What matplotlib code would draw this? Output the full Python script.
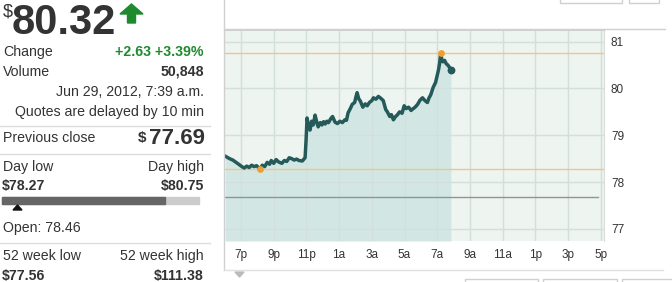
"""
Intraday quote card: price summary panel plus a one-day price chart.
"""

import matplotlib.pyplot as plt
from matplotlib.patches import Polygon, Rectangle
from matplotlib.lines import Line2D

plt.rcParams.update({
    "font.family": ["Liberation Sans", "DejaVu Sans"],
    "font.size": 10.2,
})

W, H = 672, 282

# Intraday trade, hours counted from 6 p.m. of the previous day
hours = [
    0.05, 0.3, 0.5, 0.7, 0.9, 1.05, 1.2, 1.35, 1.5, 1.65,
    1.8, 1.95, 2.1, 2.18, 2.3, 2.45, 2.6, 2.75, 2.85, 3.0,
    3.15, 3.3, 3.5, 3.65, 3.8, 3.95, 4.1, 4.25, 4.4, 4.55,
    4.75, 4.92, 4.98, 5.04, 5.12, 5.22, 5.32, 5.42, 5.53, 5.62,
    5.72, 5.85, 5.95, 6.05, 6.15, 6.25, 6.35, 6.5, 6.6, 6.75,
    6.9, 7.05, 7.2, 7.35, 7.45, 7.55, 7.7, 7.8, 7.95, 8.03,
    8.1, 8.2, 8.3, 8.45, 8.6, 8.72, 8.85, 9.0, 9.1, 9.25,
    9.4, 9.55, 9.7, 9.85, 9.95, 10.1, 10.2, 10.32, 10.45, 10.55,
    10.7, 10.85, 10.98, 11.1, 11.25, 11.4, 11.5, 11.65, 11.8, 11.95,
    12.1, 12.25, 12.4, 12.5, 12.6, 12.75, 12.9, 13.0, 13.08, 13.15,
    13.21, 13.28, 13.35, 13.45, 13.55, 13.65, 13.75, 13.84,
]
prices = [
    78.55, 78.50, 78.47, 78.42, 78.37, 78.33, 78.30, 78.34, 78.31, 78.36,
    78.33, 78.35, 78.30, 78.27, 78.36, 78.33, 78.42, 78.38, 78.46, 78.40,
    78.48, 78.43, 78.40, 78.46, 78.44, 78.52, 78.50, 78.47, 78.49, 78.46,
    78.45, 78.52, 78.90, 79.37, 79.22, 79.11, 79.30, 79.22, 79.43, 79.30,
    79.18, 79.27, 79.22, 79.29, 79.24, 79.30, 79.27, 79.36, 79.40, 79.28,
    79.25, 79.30, 79.27, 79.33, 79.32, 79.48, 79.58, 79.66, 79.70, 79.82,
    79.91, 79.78, 79.73, 79.60, 79.67, 79.63, 79.70, 79.74, 79.80, 79.77,
    79.83, 79.79, 79.74, 79.55, 79.50, 79.40, 79.44, 79.33, 79.40, 79.43,
    79.50, 79.47, 79.63, 79.57, 79.60, 79.53, 79.56, 79.60, 79.66, 79.75,
    79.80, 79.74, 79.70, 79.80, 79.86, 80.02, 80.13, 80.28, 80.40, 80.55,
    80.75, 80.62, 80.57, 80.60, 80.53, 80.50, 80.45, 80.40,
]

tick_hours = [1, 3, 5, 7, 9, 11, 13, 15, 17, 19, 21, 23]
tick_labels = ["7p", "9p", "11p", "1a", "3a", "5a", "7a", "9a", "11a", "1p", "3p", "5p"]
price_ticks = [77, 78, 79, 80, 81]

last_price = 80.32
day_low = 78.27
day_high = 80.75
prev_close = 77.69

TEXT = "#333333"
GREEN = "#1e8a2e"
TEAL = "#245a5a"
ORANGE = "#f0a030"

fig = plt.figure(figsize=(W / 100, H / 100), dpi=100)
fig.patch.set_facecolor("white")


def put(x, y, s, **kw):
    kw.setdefault("va", "center")
    kw.setdefault("color", TEXT)
    fig.text(x / W, 1 - y / H, s, **kw)


def hline(y, x0, x1, color="#dddddd", lw=1):
    fig.add_artist(Line2D([x0 / W, x1 / W], [1 - y / H, 1 - y / H], color=color, lw=lw))


# ---- left summary panel ----
put(3, 17, "$", fontsize=13, va="baseline")
put(12, 34.5, f"{last_price:.2f}", fontsize=30, fontweight="bold", va="baseline")
# up arrow, pixel positions with top-left origin
arrow_px = [(120, 14), (131.5, 4), (143, 14), (135.5, 14), (135.5, 23),
            (127.5, 23), (127.5, 14)]
fig.add_artist(Polygon([(x, H - y) for x, y in arrow_px], closed=True,
                       color=GREEN, transform=None))

put(3, 52, "Change")
put(204, 52, "+2.63 +3.39%", ha="right", color=GREEN, fontweight="bold")
put(3, 72, "Volume")
put(204, 72, "50,848", ha="right", fontweight="bold")
put(204, 92, "Jun 29, 2012, 7:39 a.m.", ha="right")
put(204, 112, "Quotes are delayed by 10 min", ha="right")
hline(126, 0, 210)

put(3, 138, "Previous close")
put(146, 138, "$", ha="right", fontsize=11, fontweight="bold")
put(205, 139, f"{prev_close:.2f}", ha="right", fontsize=16, fontweight="bold")
hline(154, 0, 210)

put(3, 167, "Day low")
put(204, 167, "Day high", ha="right")
put(2, 186, f"${day_low:.2f}", fontweight="bold")
put(204, 186, f"${day_high:.2f}", ha="right", fontweight="bold")
fig.add_artist(Rectangle((2, H - 204), 197, 7, color="#cccccc", transform=None))
fig.add_artist(Rectangle((2, H - 204), 163, 7, color="#666666", transform=None))
fig.add_artist(Polygon([(13, H - 210), (22, H - 210), (17.5, H - 205)], closed=True,
                       color="#111111", transform=None))
put(3, 228, "Open: 78.46")
hline(243, 0, 210)

put(3, 256, "52 week low")
put(204, 256, "52 week high", ha="right")
put(2, 276, "$77.56", fontweight="bold")
put(204, 276, "$111.38", ha="right", fontweight="bold")

# ---- chart frame decorations ----
fig.add_artist(Line2D([224 / W, 224 / W], [1, 1 - 270 / H], color="#d0d0d0", lw=1))
hline(29, 224, 665, color="#d0d0d0")
hline(270, 224, 663, color="#e0e0e0")
fig.add_artist(Polygon([(235, H - 272), (244, H - 272), (239.5, H - 277)], closed=True,
                       color="#b8bcbc", transform=None))
for x0, x1 in [(560, 622), (629, 659)]:
    fig.add_artist(Rectangle((x0, H - 3), x1 - x0, 6, fill=False,
                             edgecolor="#d0d0d0", lw=1, transform=None))
for x0, x1 in [(465, 538), (543, 617), (622, 680)]:
    fig.add_artist(Rectangle((x0, H - 285), x1 - x0, 6, fill=False,
                             edgecolor="#d0d0d0", lw=1, transform=None))

# ---- price chart ----
ax = fig.add_axes([224.65 / W, 41 / H, (604 - 224.65) / W, (241 - 29.5) / H])
ax.set_facecolor("#eef4f0")
ax.set_xlim(0, 23.2)
ax.set_ylim(76.74, 81.26)

ax.fill_between(hours, prices, 76.74, color="#d2e7e4", lw=0, zorder=0.4)
ax.set_axisbelow(True)
ax.grid(True, color="#d3dfdb", lw=1)

ax.axhline(day_high, color="#f2c48c", lw=1, zorder=1)
ax.axhline(day_low, color="#f2c48c", lw=1, zorder=1)
ax.axhline(prev_close, xmax=0.985, color="#8c9696", lw=1, zorder=1)

ax.plot(hours, prices, color=TEAL, lw=2.5, zorder=3, solid_joinstyle="round")
i_low = prices.index(min(prices))
i_high = prices.index(max(prices))
ax.scatter([hours[i_low], hours[i_high]], [prices[i_low], prices[i_high]],
           s=24, color=ORANGE, zorder=4, lw=0)
ax.scatter([hours[-1]], [prices[-1]], s=32, color=TEAL, zorder=4, lw=0)

ax.set_xticks(tick_hours)
ax.set_xticklabels(tick_labels)
ax.set_yticks(price_ticks)
ax.yaxis.tick_right()
ax.tick_params(axis="both", length=0, labelsize=8.5, colors=TEXT)
ax.tick_params(axis="x", pad=6)
ax.tick_params(axis="y", pad=5)
for side in ["left", "bottom"]:
    ax.spines[side].set_visible(False)
ax.spines["top"].set_color("#d0d0d0")
ax.spines["right"].set_color("#d8dedc")

fig.savefig("out.png", dpi=100)
